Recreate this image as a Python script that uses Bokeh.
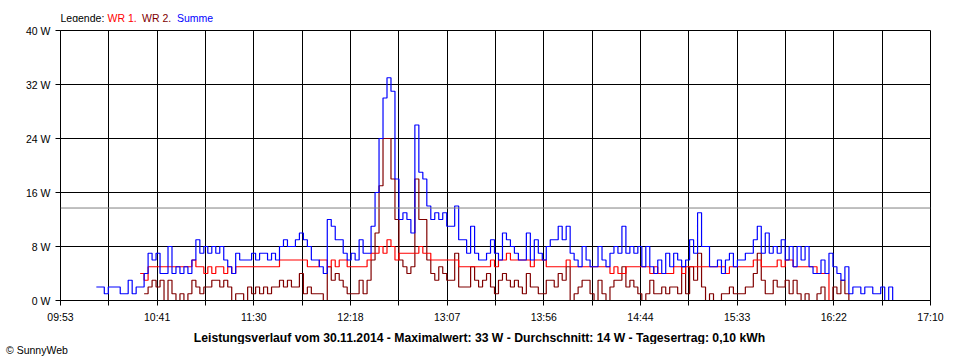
from bokeh.plotting import figure
from bokeh.layouts import column
from bokeh.models import FixedTicker, CustomJSTickFormatter, Span, Range1d, Div
from bokeh.core.properties import value
from bokeh.embed import file_html
from bokeh.resources import INLINE

# ---- axis definitions ----
x_start_label = "09:53"
x_end_label = "17:10"
x_tick_labels = ["09:53", "", "10:41", "", "11:30", "", "12:18", "", "13:07", "",
                 "13:56", "", "14:44", "", "15:33", "", "16:22", "", "17:10"]
y_ticks = [0, 8, 16, 24, 32, 40]
y_tick_labels = ["0 W", "8 W", "16 W", "24 W", "32 W", "40 W"]

# ---- data (W, sampled every 2 minutes) ----
sample_step_min = 2
summe_start = "10:11"
summe = [2, 2, 1, 2, 2, 2, 1, 1, 3, 1,
         2, 2, 4, 7, 6, 7, 4, 4, 8, 4,
         5, 4, 5, 4, 6, 9, 7, 8, 7, 8,
         7, 8, 6, 5, 4, 7, 6, 6, 6, 7,
         6, 7, 7, 6, 7, 6, 8, 9, 8, 8,
         9, 10, 9, 8, 6, 6, 5, 4, 12, 11,
         9, 9, 7, 6, 7, 6, 9, 7, 7, 11,
         16, 24, 30, 33, 31, 18, 12, 13, 12, 10,
         26, 19, 18, 14, 12, 13, 12, 13, 11, 11,
         14, 9, 9, 7, 11, 7, 6, 6, 7, 9,
         7, 6, 10, 9, 8, 7, 6, 6, 10, 6,
         9, 7, 6, 8, 9, 9, 11, 9, 11, 7,
         6, 5, 8, 6, 5, 5, 8, 6, 5, 7,
         8, 7, 11, 7, 8, 7, 8, 5, 8, 5,
         4, 6, 4, 7, 5, 7, 6, 5, 6, 9,
         7, 13, 8, 8, 5, 5, 6, 4, 6, 7,
         5, 6, 6, 7, 7, 9, 11, 7, 10, 7,
         8, 7, 9, 6, 8, 5, 8, 6, 8, 5,
         4, 4, 6, 4, 7, 5, 4, 3, 5, 1,
         2, 2, 1, 2, 2, 1, 1, 2, 0, 2, 0]

wr1_start = "10:33"
wr1 = [4, 3, 5, 5, 5, 5, 5, 5, 5, 5,
       5, 5, 5, 6, 5, 5, 4, 5, 4, 5,
       5, 4, 5, 4, 5, 5, 5, 5, 5, 5,
       5, 5, 5, 5, 5, 6, 6, 6, 6, 6,
       6, 6, 5, 5, 5, 6, 6, 5, 6, 5,
       6, 6, 5, 5, 5, 5, 5, 6, 7, 7,
       8, 7, 9, 8, 6, 7, 7, 7, 7, 7,
       8, 7, 7, 6, 6, 6, 6, 6, 6, 6,
       5, 5, 5, 5, 5, 5, 5, 5, 6, 5,
       6, 6, 7, 6, 6, 6, 6, 6, 5, 6,
       6, 6, 5, 5, 5, 5, 5, 6, 5, 5,
       5, 5, 5, 5, 5, 5, 5, 5, 4, 5,
       4, 4, 5, 5, 5, 5, 5, 5, 4, 5,
       4, 4, 4, 4, 5, 5, 4, 5, 5, 5,
       5, 5, 5, 5, 5, 5, 5, 4, 5, 5,
       5, 5, 5, 5, 6, 6, 5, 5, 5, 5,
       6, 5, 6, 6, 5, 5, 5, 5, 5, 5,
       4, 4, 4, 0]

wr2_start = "10:35"
wr2 = [1, 2, 3, 2, 3, 0, 3, 1, 0, 1,
       0, 1, 3, 2, 1, 2, 2, 3, 3, 2,
       3, 2, 0, 1, 1, 0, 2, 1, 2, 1,
       2, 1, 2, 2, 3, 2, 3, 2, 2, 4,
       1, 2, 1, 1, 1, 0, 5, 3, 4, 3,
       2, 1, 1, 1, 3, 1, 3, 6, 10, 17,
       24, 24, 18, 12, 6, 5, 4, 5, 18, 12,
       12, 6, 4, 3, 5, 4, 3, 3, 7, 2,
       2, 2, 5, 3, 2, 3, 4, 2, 1, 3,
       4, 3, 2, 3, 2, 1, 4, 2, 2, 1,
       1, 3, 3, 2, 4, 3, 5, 0, 1, 2,
       3, 3, 1, 0, 3, 1, 0, 2, 3, 3,
       5, 2, 3, 2, 1, 0, 1, 3, 1, 1,
       2, 1, 2, 2, 1, 5, 1, 5, 3, 7,
       2, 0, 1, 0, 0, 1, 1, 2, 1, 1,
       1, 2, 2, 4, 7, 3, 1, 1, 3, 2,
       2, 3, 1, 3, 1, 0, 1, 0, 0, 1,
       2, 0, 0, 2, 1, 3, 1, 0]

durchschnitt = 13.7

legend_texts = ["Legende:", "WR 1,", "WR 2,", "Summe"]
legend_colors = ["black", "#FF0000", "#800000", "#0000FF"]
caption = ("Leistungsverlauf vom 30.11.2014 - Maximalwert: 33 W - Durchschnitt: 14 W"
           " - Tagesertrag: 0,10 kWh")
copyright_text = "\u00a9 SunnyWeb"


def to_min(s):
    h, m = s.split(":")
    return int(h) * 60 + int(m)


def times(start, n):
    t0 = to_min(start)
    return [t0 + sample_step_min * i for i in range(n)]


T0 = to_min(x_start_label)
T1 = to_min(x_end_label)
n_ticks = len(x_tick_labels)
x_ticks = [T0 + (T1 - T0) * k / (n_ticks - 1) for k in range(n_ticks)]

FONT = "Liberation Sans"
W = 952
FRAME_L, FRAME_R = 60, 930   # frame edges in page pixels (strip frames align with main frame)


def text_strip(height):
    f = figure(width=W, height=height, x_range=Range1d(FRAME_L, FRAME_R), y_range=Range1d(height, 0),
               output_backend="svg", toolbar_location=None,
               x_axis_location=None, y_axis_location=None,
               min_border_left=FRAME_L, min_border_right=W - FRAME_R,
               min_border_top=0, min_border_bottom=0)
    f.xgrid.visible = False
    f.ygrid.visible = False
    f.outline_line_color = None
    f.background_fill_color = "white"
    f.border_fill_color = "white"
    return f


# ---- top strip: legend ----
top = text_strip(22)
legend_x = [60, 107, 141.5, 176.5]
top.text(x=legend_x, y=[17] * 4, text=legend_texts, text_color=legend_colors,
         text_font=value(FONT), text_font_size="10.5px", text_baseline="middle", text_align="left")

# ---- main chart ----
p = figure(width=W, height=304, x_range=Range1d(T0, T1), y_range=Range1d(0, 40),
           output_backend="svg", toolbar_location=None,
           min_border_left=FRAME_L, min_border_right=W - FRAME_R, min_border_top=8, min_border_bottom=26)
p.background_fill_color = "white"
p.border_fill_color = "white"
p.outline_line_color = "black"
p.outline_line_width = 1

p.xaxis.ticker = FixedTicker(ticks=x_ticks)
p.xaxis.formatter = CustomJSTickFormatter(
    args=dict(labels=x_tick_labels, t0=T0, step=(T1 - T0) / (n_ticks - 1)),
    code="const k = Math.round((tick - t0) / step); return labels[k] || '';")
p.yaxis.ticker = FixedTicker(ticks=y_ticks)
p.yaxis.major_label_overrides = {t: l for t, l in zip(y_ticks, y_tick_labels)}
for ax in (p.xaxis, p.yaxis):
    ax.axis_line_color = "black"
    ax.major_tick_line_color = "black"
    ax.major_tick_out = 5
    ax.major_tick_in = 0
    ax.minor_tick_line_color = None
    ax.major_label_text_font = FONT
    ax.major_label_text_font_size = "10.5px"
    ax.major_label_text_color = "black"
p.xaxis.major_label_standoff = 5
p.yaxis.major_label_standoff = 5

for g in (p.xgrid, p.ygrid):
    g.grid_line_color = "black"
    g.grid_line_alpha = 1.0
    g.grid_line_width = 1
p.ygrid.ticker = FixedTicker(ticks=y_ticks)
p.xgrid.ticker = FixedTicker(ticks=x_ticks)

p.add_layout(Span(location=durchschnitt, dimension="width", line_color="#808080", line_width=1))

p.step(times(wr2_start, len(wr2)), wr2, mode="after", line_color="#800000", line_width=1.2)
p.step(times(wr1_start, len(wr1)), wr1, mode="after", line_color="#FF0000", line_width=1.2)
p.step(times(summe_start, len(summe)), summe, mode="after", line_color="#0000FF", line_width=1.2)

# ---- bottom strip: caption ----
bot = text_strip(18)
bot.text(x=[479], y=[11], text=[caption], text_color="black", text_font=value(FONT),
         text_font_size="12.2px", text_font_style="bold", text_baseline="middle", text_align="center")

# ---- copyright line ----
copy_div = Div(text=copyright_text, width=200, height=16, margin=(0, 0, 0, 6),
               styles={"font-family": FONT, "font-size": "10.5px", "line-height": "12px",
                       "color": "black", "padding-top": "0px"})

layout = column(top, p, bot, copy_div, spacing=0)
open("out.html", "w").write(file_html(layout, INLINE))
